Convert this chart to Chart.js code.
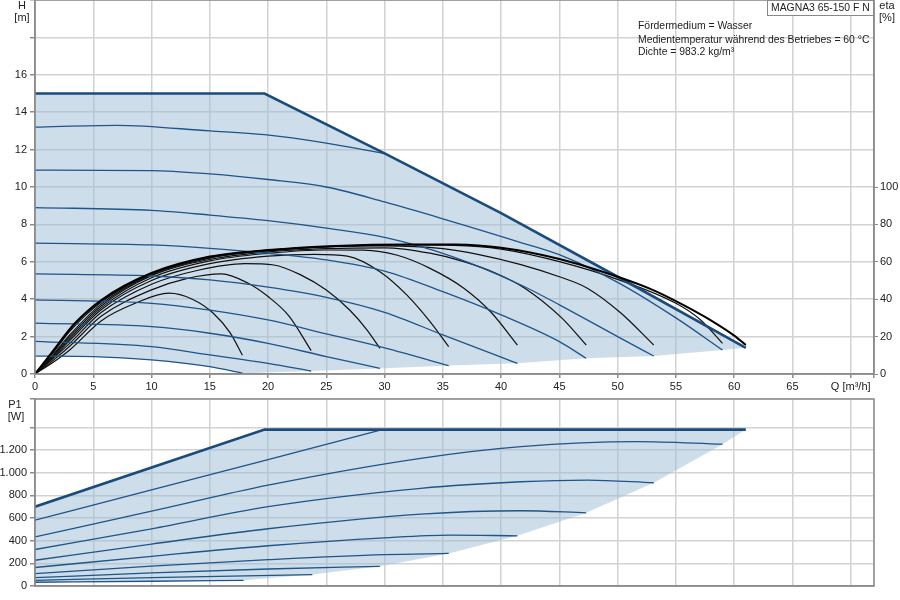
<!DOCTYPE html>
<html>
<head>
<meta charset="utf-8">
<script src="https://cdn.jsdelivr.net/npm/chart.js@4.4.1/dist/chart.umd.min.js"></script>
<style>
  body { margin: 0; width: 900px; height: 600px; position: relative; overflow: hidden; background: #fff; }
  canvas { position: absolute; left: 0; }
  .t { position: absolute; font: 10.4px "Liberation Sans", Arial, sans-serif; color: #222; line-height: 12px; white-space: nowrap; }
  .c { text-align: center; width: 30px; font-size: 11px; }
  #box { border: 1px solid #888; padding: 1px 3px; background: #fff; width: 99px; }
</style>
</head>
<body>
<canvas id="top" width="900" height="398" style="top:0"></canvas>
<canvas id="bot" width="900" height="210" style="top:390px"></canvas>

<div class="t c" style="left:7px;top:-1px">H</div>
<div class="t c" style="left:7px;top:11px">[m]</div>
<div class="t c" style="left:872px;top:-1px">eta</div>
<div class="t c" style="left:872px;top:11px">[%]</div>
<div class="t" id="box" style="left:767px;top:0px">MAGNA3 65-150 F N</div>
<div class="t" style="left:638px;top:20px">Fördermedium = Wasser</div>
<div class="t" style="left:638px;top:34px">Medientemperatur während des Betriebes = 60 °C</div>
<div class="t" style="left:638px;top:46px">Dichte = 983.2 kg/m³</div>
<div class="t c" style="left:0px;top:398px">P1</div>
<div class="t c" style="left:1px;top:410px">[W]</div>

<script>
// Förderhöhe H [m], Paare [Q m³/h, H]
const hMax = [[0,15],[19.7,15],[30,11.8],[40,8.6],[50,5.2],[61,1.4]];
const h9 = [[0,13.2],[7,13.3],[15,13.0],[19.7,12.8],[25,12.35],[29.9,11.8]];
const h8 = [[0,10.9],[10,10.88],[15,10.7],[20,10.4],[25,10.0],[30,9.2],[35,8.3],[41.7,7.03],[45.4,6.28],[50,4.9],[55,3.0],[59,1.28]];
const h7 = [[0,8.9],[10,8.75],[15,8.5],[20,8.2],[25,7.8],[30,7.3],[35.7,6.3],[41.7,4.76],[45,3.7],[50,2.0],[53.1,0.96]];
const h6 = [[0,7.0],[10,6.9],[15,6.72],[20,6.45],[25,6.1],[30,5.5],[35,4.4],[40,3.16],[45,1.73],[47.3,0.84]];
const h5 = [[0,5.35],[10,5.24],[15,5.03],[20,4.64],[25,4.1],[30,3.3],[35,2.09],[40,0.9],[41.4,0.57]];
const h4 = [[0,3.96],[10,3.78],[15,3.42],[20,2.89],[25,2.15],[30,1.4],[35.5,0.45]];
const h3 = [[0,2.72],[10,2.53],[15,2.18],[20,1.64],[25,0.93],[29.6,0.3]];
const h2 = [[0,1.75],[10,1.46],[15,1.02],[20,0.57],[23.7,0.16]];
const h1 = [[0,0.96],[5,0.93],[10,0.75],[15,0.39],[17.8,0.04]];
const hEnd = [[23.7,0.16],[29.6,0.3],[35.5,0.45],[41.4,0.57],[47.3,0.84],[53.1,0.96],[59,1.28],[61,1.4]];

// Wirkungsgrad eta [%], Paare [Q, eta]
const eMax = [[0,0],[1.5,12],[3.4,27],[5.7,39.6],[10,54],[15,62.8],[20,66.3],[25.8,68.5],[32,69.3],[36,69.2],[40,67.5],[45,61.5],[50,52],[53,45],[55,39],[57.5,30.5],[60,20.5],[61,15.5]];
const e9 = [[0,0],[1.5,11.5],[3,24],[5.7,39],[10,53.8],[15,62.6],[20,66.2],[25.8,68.4],[29.9,69]];
const e8 = [[0,0],[1.5,11],[3,23],[5.7,38.5],[10,53.5],[15,62.3],[20,66],[25.8,68.3],[32,69],[36,68.8],[40,66.8],[45,60.1],[50,50.6],[55,37.8],[57.1,29],[59,16.4]];
const e7 = [[0,0],[1.5,10],[3,21],[5.7,37.5],[10,53],[15,62],[20,66],[25,68],[30,68.5],[35,67],[38,64],[41.7,58.5],[45,52],[47.4,45.9],[50.3,32.5],[53.1,15.5]];
const e6 = [[0,0],[1.5,9.5],[3,20],[5.7,36.5],[10,52.5],[15,61.3],[20,65.3],[25,67],[30,67.5],[33.9,64.6],[36.8,60.1],[39.7,53.5],[42,46],[45.2,30],[47.3,15.5]];
const e5 = [[0,0],[1.5,9],[3,19],[5.7,35.5],[10,51.5],[15,60.5],[20,64.5],[25,66.3],[28.2,66.2],[31.1,63.5],[33.9,56.5],[36.8,45.9],[39.1,33.3],[41.4,15.5]];
const e4 = [[0,0],[1.5,8.5],[3,18],[5.7,34.5],[10,50],[15,59],[20,63],[24,64],[26.8,63],[29.6,54.7],[31.9,42.3],[33.9,28],[35.5,14.6]];
const e3 = [[0,0],[1.5,8],[3,16.5],[5.7,33],[10,48],[14,55.5],[18,59],[20.5,58.3],[22.8,53],[25,44.9],[27,34.2],[28.5,23.5],[29.6,13.7]];
const e2 = [[0,0],[1.5,7],[3,15],[5.7,31],[10,45],[13,51],[16,53.5],[18.3,48.5],[20,41.4],[21.8,31],[23.7,12.5]];
const e1 = [[0,0],[1.5,6],[3,13],[5.7,28.5],[8.6,37.8],[11.5,43.2],[13.5,40],[15.3,32.5],[16.75,22],[17.8,10]];

// Leistungsaufnahme P1 [W], Paare [Q, P1]
const pMax = [[0,700],[19.7,1380],[61,1380]];
const p9 = [[0,581],[10,849],[20,1115],[29.8,1380]];
const p8 = [[0,434],[10,660],[20,890],[33.1,1127],[41.7,1230],[51.7,1274],[59,1251]];
const p7 = [[0,322],[10,505],[20,700],[33.1,862],[41.7,920],[47.4,935],[53.1,911]];
const p6 = [[0,227],[10,370],[20,505],[33.1,634],[41.7,664],[47.3,646]];
const p5 = [[0,163],[10,262],[20,355],[30,425],[35.6,449],[41.4,443]];
const p4 = [[0,110],[10,175],[20,232],[30,277],[35.5,287]];
const p3 = [[0,74],[10,115],[20,150],[29.6,174]];
const p2 = [[0,50],[10,74],[23.8,101]];
const p1 = [[0,33],[10,42],[17.9,50]];
const pEnd = [[23.8,101],[29.6,174],[35.5,287],[41.4,443],[47.3,646],[53.1,911],[59,1251],[61,1380]];

const qTicks = [0,5,10,15,20,25,30,35,40,45,50,55,60,65];

const BLUE = '#1f5588';
const BLUE_DARK = '#1b4b7b';
const FILL = 'rgba(158,188,214,0.5)';
const GRID = '#d2d2d2';
const AXIS = '#8c8c8c';

Chart.defaults.font.family = '"Liberation Sans", Arial, sans-serif';
Chart.defaults.font.size = 11;
Chart.defaults.color = '#222';

const pts = a => a.map(([x, y]) => ({x, y}));

function curve(data, color, width, axis) {
    return {
        data: pts(data),
        yAxisID: axis,
        borderColor: color,
        borderWidth: width,
        pointRadius: 0,
        fill: false,
        cubicInterpolationMode: 'monotone',
        order: 2
    };
}

function straight(data, color, width, axis) {
    const d = curve(data, color, width, axis);
    d.cubicInterpolationMode = 'default';
    d.tension = 0;
    d.order = 1;
    return d;
}

function area(upper, lower, axis) {
    return {
        data: pts(upper.concat(lower.slice().reverse())),
        yAxisID: axis,
        borderWidth: 0,
        pointRadius: 0,
        backgroundColor: FILL,
        fill: 'shape',
        tension: 0,
        order: 10
    };
}

// Rahmen um den Plotbereich
const frame = {
    id: 'frame',
    afterDraw(chart) {
        const {ctx, chartArea: a} = chart;
        ctx.save();
        ctx.strokeStyle = AXIS;
        ctx.lineWidth = 1.5;
        ctx.strokeRect(a.left, a.top, a.right - a.left, a.bottom - a.top);
        ctx.restore();
    }
};

function fixWidth(w) {
    return scale => {
        scale.width = w;
        scale.paddingTop = 0; scale.paddingBottom = 0;
        scale.paddingLeft = 0; scale.paddingRight = 0;
    };
}
function fixHeight(h) {
    return scale => {
        scale.height = h;
        scale.paddingTop = 0; scale.paddingBottom = 0;
        scale.paddingLeft = 0; scale.paddingRight = 0;
    };
}

const common = {
    responsive: false,
    animation: false,
    plugins: { legend: { display: false }, tooltip: { enabled: false } }
};

const lowerH = h1.concat(hEnd);
new Chart(document.getElementById('top'), {
    type: 'line',
    data: {
        datasets: [
            area(hMax, lowerH, 'y'),
            curve(h1, BLUE, 1.3, 'y'), curve(h2, BLUE, 1.3, 'y'), curve(h3, BLUE, 1.3, 'y'),
            curve(h4, BLUE, 1.3, 'y'), curve(h5, BLUE, 1.3, 'y'), curve(h6, BLUE, 1.3, 'y'),
            curve(h7, BLUE, 1.3, 'y'), curve(h8, BLUE, 1.3, 'y'), curve(h9, BLUE, 1.3, 'y'),
            straight(hMax, BLUE_DARK, 2.6, 'y'),
            curve(e1, '#111', 1.2, 'eta'), curve(e2, '#111', 1.2, 'eta'), curve(e3, '#111', 1.2, 'eta'),
            curve(e4, '#111', 1.2, 'eta'), curve(e5, '#111', 1.2, 'eta'), curve(e6, '#111', 1.2, 'eta'),
            curve(e7, '#111', 1.2, 'eta'), curve(e8, '#111', 1.2, 'eta'), curve(e9, '#111', 1.2, 'eta'),
            Object.assign(curve(eMax, '#000', 2, 'eta'), {order: 0})
        ]
    },
    options: Object.assign({}, common, {
        layout: { padding: 0 },
        scales: {
            x: {
                type: 'linear', min: 0, max: 72,
                afterFit: fixHeight(24),
                ticks: {
                    stepSize: 5, padding: 2, maxRotation: 0, autoSkip: false,
                    callback: v => v === 70 ? 'Q [m³/h]' : (qTicks.includes(v) ? String(v) : '')
                },
                grid: { color: GRID, lineWidth: 1.5, tickLength: 4, tickColor: AXIS },
                border: { color: AXIS, width: 1.5 }
            },
            y: {
                position: 'left', min: 0, max: 20,
                afterFit: fixWidth(35),
                ticks: { stepSize: 2, padding: 3, callback: v => v <= 16 ? String(v) : '' },
                grid: { color: GRID, lineWidth: 1.5, tickLength: 5, tickColor: AXIS },
                border: { color: AXIS, width: 1.5 }
            },
            eta: {
                position: 'right', min: 0, max: 200,
                afterFit: fixWidth(26),
                ticks: { stepSize: 20, padding: 2, callback: v => v <= 100 ? String(v) : null },
                grid: { drawOnChartArea: false, tickLength: 4, tickColor: AXIS },
                border: { color: AXIS, width: 1.5 }
            }
        }
    }),
    plugins: [frame]
});

const lowerP = p1.concat(pEnd);
new Chart(document.getElementById('bot'), {
    type: 'line',
    data: {
        datasets: [
            area(pMax, lowerP, 'y'),
            curve(p1, BLUE, 1.3, 'y'), curve(p2, BLUE, 1.3, 'y'), curve(p3, BLUE, 1.3, 'y'),
            curve(p4, BLUE, 1.3, 'y'), curve(p5, BLUE, 1.3, 'y'), curve(p6, BLUE, 1.3, 'y'),
            curve(p7, BLUE, 1.3, 'y'), curve(p8, BLUE, 1.3, 'y'), curve(p9, BLUE, 1.3, 'y'),
            straight(pMax, BLUE_DARK, 2.6, 'y')
        ]
    },
    options: Object.assign({}, common, {
        layout: { padding: { top: 9, right: 26 } },
        scales: {
            x: {
                type: 'linear', min: 0, max: 72,
                afterFit: fixHeight(14),
                ticks: { stepSize: 5, display: false },
                grid: { color: GRID, lineWidth: 1.5, drawTicks: false },
                border: { color: AXIS, width: 1.5 }
            },
            y: {
                position: 'left', min: 0, max: 1650,
                afterFit: fixWidth(35),
                ticks: { stepSize: 200, padding: 3, callback: v => v <= 1200 ? v.toLocaleString('de-DE') : '' },
                grid: { color: GRID, lineWidth: 1.5, tickLength: 5, tickColor: AXIS },
                border: { color: AXIS, width: 1.5 }
            }
        }
    }),
    plugins: [frame]
});
</script>
</body>
</html>
